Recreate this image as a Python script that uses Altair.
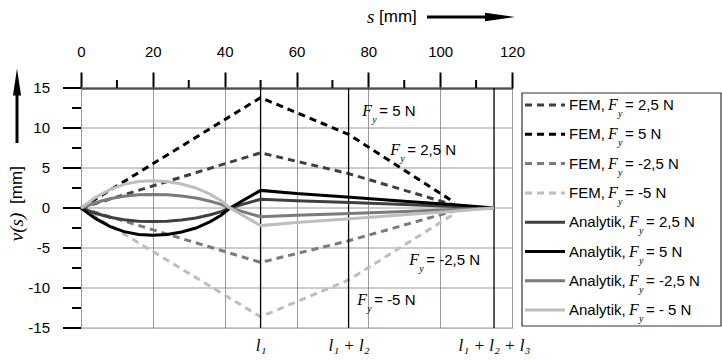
import altair as alt
import pandas as pd

# ---------------- data ----------------
series = ["FEM 2,5", "FEM 5", "FEM -2,5", "FEM -5",
          "Analytik 2,5", "Analytik 5", "Analytik -2,5", "Analytik -5"]
kinds = ["FEM", "FEM", "FEM", "FEM", "Analytik", "Analytik", "Analytik", "Analytik"]
legend_prefix = ["FEM, ", "FEM, ", "FEM, ", "FEM, ",
                 "Analytik, ", "Analytik, ", "Analytik, ", "Analytik, "]
legend_rest = ["= 2,5 N", "= 5 N", "= -2,5 N", "= -5 N",
               "= 2,5 N", "= 5 N", "= -2,5 N", "= - 5 N"]
series_colors = ["#404040", "#000000", "#7b7b7b", "#bebebe",
                 "#404040", "#000000", "#7b7b7b", "#bebebe"]

# FEM (dashed) polylines
s_fem = [0, 50, 74.5, 104]
v_fem_25 = [0, 6.9, 4.3, 0.35]
v_fem_5 = [0, 13.8, 9.2, 0.7]
v_fem_m25 = [0, -6.8, -4.1, -0.35]
v_fem_m5 = [0, -13.6, -9.0, -0.7]

# analytical (solid) curves
s_ana = [0, 4, 8, 12, 16, 20, 24, 28, 32, 36, 39, 41.5, 50, 60, 75, 90, 104, 115]
v_ana_25 = [0, -0.65, -1.15, -1.47, -1.65, -1.7, -1.65, -1.5, -1.25, -0.85, -0.45, 0,
            1.1, 0.9, 0.68, 0.43, 0.2, 0]
v_ana_5 = [0, -1.3, -2.3, -2.95, -3.3, -3.4, -3.3, -3.0, -2.5, -1.7, -0.9, 0,
           2.2, 1.8, 1.35, 0.85, 0.4, 0]
v_ana_m25 = [0, 0.65, 1.15, 1.47, 1.65, 1.7, 1.65, 1.5, 1.25, 0.85, 0.45, 0,
             -1.1, -0.9, -0.68, -0.43, -0.2, 0]
v_ana_m5 = [0, 1.3, 2.3, 2.95, 3.3, 3.4, 3.3, 3.0, 2.5, 1.7, 0.9, 0,
            -2.2, -1.8, -1.35, -0.85, -0.4, 0]

x_ticks = [0, 20, 40, 60, 80, 100, 120]
x_minor = [10, 30, 50, 70, 90, 110]
y_ticks = [-15, -10, -5, 0, 5, 10, 15]
y_tick_labels = ["-15", "-10", "-5", "0", "5", "10", "15"]
y_minor = [-12.5, -7.5, -2.5, 2.5, 7.5, 12.5]
l_marks = [50, 74.5, 115]
l_labels = ["l\u2081", "l\u2081 + l\u2082", "l\u2081 + l\u2082 + l\u2083"]

ann_rest = ["= 5 N", "= 2,5 N", "= -2,5 N", "= -5 N"]
ann_s = [78.3, 86.1, 91.4, 76.9]
ann_v = [12.1, 7.25, -6.5, -11.5]

# ---------------- tables ----------------
rows = []
fem_vals = [v_fem_25, v_fem_5, v_fem_m25, v_fem_m5]
ana_vals = [v_ana_25, v_ana_5, v_ana_m25, v_ana_m5]
for name, vals in zip(series[:4], fem_vals):
    for s, v in zip(s_fem, vals):
        rows.append({"s": s, "v": v, "series": name, "kind": "FEM"})
for name, vals in zip(series[4:], ana_vals):
    for s, v in zip(s_ana, vals):
        rows.append({"s": s, "v": v, "series": name, "kind": "Analytik"})
df = pd.DataFrame(rows)

leg = pd.DataFrame({"series": series, "kind": kinds, "prefix": legend_prefix,
                    "rest": legend_rest, "idx": list(range(len(series)))})
ann = pd.DataFrame({"s": ann_s, "v": ann_v, "rest": ann_rest})
yt = pd.DataFrame({"v": y_ticks, "lab": y_tick_labels})
one = pd.DataFrame({"k": [0]})

SANS = "Liberation Sans"
SERIF = "Liberation Serif"
W, H = 431, 240

xs = alt.Scale(domain=[0, 120], nice=False, zero=False)
ys = alt.Scale(domain=[-15, 15], nice=False, zero=False)
color_scale = alt.Scale(domain=series, range=series_colors)
dash_scale = alt.Scale(domain=["FEM", "Analytik"], range=[[7, 5], [1, 0]])

label_expr = " : ".join(
    f"datum.value == {m} ? '{t}'" for m, t in zip(l_marks, l_labels)) + " : ''"

top_axis = alt.Axis(orient="top", values=x_ticks, title=None, tickSize=16, tickWidth=2,
                    tickColor="black", domainColor="black", domainWidth=2,
                    labelFont=SANS, labelFontSize=15, labelColor="black", labelPadding=13,
                    labelFlush=False, labelOverlap=False,
                    grid=True, gridColor="#999999", gridWidth=1)
bottom_axis = alt.Axis(orient="bottom", values=l_marks, title=None, ticks=False, tickSize=0,
                       domain=False, grid=False, labelExpr=label_expr,
                       labelFont=SERIF, labelFontStyle="italic", labelFontSize=17,
                       labelColor="black", labelPadding=9, labelFlush=False,
                       labelOverlap=False)

NOY = alt.Y("v:Q", scale=ys, axis=None)
NOX = alt.X("s:Q", scale=xs, axis=None)

# ---------------- y axis drawn from the tick table ----------------
y_grid = alt.Chart(yt).mark_rule(color="#999999", strokeWidth=1).encode(
    y=NOY, x=alt.value(0), x2=alt.value(W))
y_major = alt.Chart(yt).mark_rule(color="black", strokeWidth=2).encode(
    y=NOY, x=alt.value(-18), x2=alt.value(0))
y_labels = alt.Chart(yt).mark_text(font=SANS, fontSize=15, align="right", baseline="middle",
                                   color="black").encode(
    y=NOY, x=alt.value(-31), text="lab:N")
left_minor = alt.Chart(pd.DataFrame({"v": y_minor})).mark_rule(color="black", strokeWidth=2).encode(
    y=NOY, x=alt.value(-9), x2=alt.value(0))

# ---------------- x decorations ----------------
lrules = alt.Chart(pd.DataFrame({"s": l_marks})).mark_rule(color="black", strokeWidth=1.3).encode(
    x=alt.X("s:Q", scale=xs, axis=bottom_axis), y=alt.value(0), y2=alt.value(H))
top_minor = alt.Chart(pd.DataFrame({"s": x_minor})).mark_rule(color="black", strokeWidth=2).encode(
    x=NOX, y=alt.value(-8), y2=alt.value(0))

# ---------------- curves ----------------
fem = alt.Chart(df).transform_filter("datum.kind == 'FEM'").mark_line(strokeWidth=3).encode(
    x=alt.X("s:Q", scale=xs, axis=top_axis),
    y=NOY,
    color=alt.Color("series:N", scale=color_scale, legend=None),
    strokeDash=alt.StrokeDash("kind:N", scale=dash_scale, legend=None),
    detail="series:N")
ana = alt.Chart(df).transform_filter("datum.kind == 'Analytik'").mark_line(strokeWidth=3).encode(
    x=NOX, y=NOY,
    color=alt.Color("series:N", scale=color_scale, legend=None),
    detail="series:N")

# in-plot annotations  F_y = ...
ann_base = alt.Chart(ann).encode(x=NOX, y=NOY)
ann_F = ann_base.mark_text(text="F", font=SERIF, fontStyle="italic", fontSize=16,
                           align="left", baseline="middle", color="black")
ann_y = ann_base.mark_text(text="y", font=SERIF, fontStyle="italic", fontSize=10,
                           align="left", baseline="middle", color="black", dx=10, dy=9)
ann_r = ann_base.mark_text(font=SANS, fontSize=15, align="left", baseline="middle",
                           color="black", dx=17).encode(text="rest:N")

# axis titles with arrows
deco = alt.Chart(one)
t_s = deco.mark_text(text="s", font=SERIF, fontStyle="italic", fontSize=19, align="left",
                     baseline="middle", color="black").encode(x=alt.value(286), y=alt.value(-71))
t_mm = deco.mark_text(text="[mm]", font=SANS, fontSize=17, align="left", baseline="middle",
                      color="black").encode(x=alt.value(298), y=alt.value(-71))
a_shaft = deco.mark_rule(color="black", strokeWidth=3).encode(
    x=alt.value(346), x2=alt.value(410), y=alt.value(-71))
a_head = deco.mark_point(shape="M -1 -0.28 L 1 0 L -1 0.28 Z", filled=True, opacity=1,
                         color="black", size=900).encode(x=alt.value(419), y=alt.value(-71))
t_vmm = deco.mark_text(text="[mm]", font=SANS, fontSize=17, angle=270, align="center",
                       baseline="middle", color="black").encode(x=alt.value(-64), y=alt.value(97))
t_vs = deco.mark_text(text="\u03bd(s)", font=SERIF, fontStyle="italic", fontSize=19, angle=270,
                      align="center", baseline="middle", color="black").encode(
    x=alt.value(-64), y=alt.value(139))
v_shaft = deco.mark_rule(color="black", strokeWidth=3).encode(
    x=alt.value(-64), y=alt.value(-5), y2=alt.value(55))
v_head = deco.mark_point(shape="M -0.3 1 L 0 -1 L 0.3 1 Z", filled=True, opacity=1,
                         color="black", size=729).encode(x=alt.value(-64), y=alt.value(-6))

# custom legend
leg_box = deco.mark_rect(fill="white", stroke="#333333", strokeWidth=1.2).encode(
    x=alt.value(441), x2=alt.value(640), y=alt.value(5), y2=alt.value(238))
lb = alt.Chart(leg).transform_calculate(ly="17 + 29.3 * datum.idx")
LY = alt.Y("ly:Q", scale=None, axis=None)
leg_sym = lb.mark_rule(strokeWidth=3).encode(
    x=alt.value(444), x2=alt.value(484), y=LY,
    color=alt.Color("series:N", scale=color_scale, legend=None),
    strokeDash=alt.StrokeDash("kind:N", scale=dash_scale, legend=None))
leg_pre = lb.mark_text(font=SANS, fontSize=15, align="left", baseline="middle",
                       color="black").encode(x=alt.value(488), y=LY, text="prefix:N")
leg_layers = [leg_box, leg_sym, leg_pre]
for kind, fx in [("FEM", 527), ("Analytik", 548)]:
    kb = lb.transform_filter(f"datum.kind == '{kind}'")
    leg_layers.append(kb.mark_text(text="F", font=SERIF, fontStyle="italic", fontSize=16,
                                   align="left", baseline="middle", color="black").encode(
        x=alt.value(fx), y=LY))
    leg_layers.append(kb.mark_text(text="y", font=SERIF, fontStyle="italic", fontSize=10,
                                   align="left", baseline="middle", color="black", dy=9).encode(
        x=alt.value(fx + 10), y=LY))
    leg_layers.append(kb.mark_text(font=SANS, fontSize=15, align="left", baseline="middle",
                                   color="black").encode(
        x=alt.value(fx + 17), y=LY, text="rest:N"))

chart = alt.layer(
    y_grid, fem, lrules, top_minor, left_minor, y_major, y_labels, ana,
    ann_F, ann_y, ann_r,
    t_s, t_mm, a_shaft, a_head, t_vmm, t_vs, v_shaft, v_head,
    *leg_layers
).properties(
    width=W, height=H,
    autosize=alt.AutoSizeParams(type="none"),
    padding={"left": 81, "top": 88, "right": 210, "bottom": 33},
).configure_view(stroke="black", strokeWidth=2).configure(background="white")

chart.save("out.html", embed_options={"renderer": "svg", "actions": False})
